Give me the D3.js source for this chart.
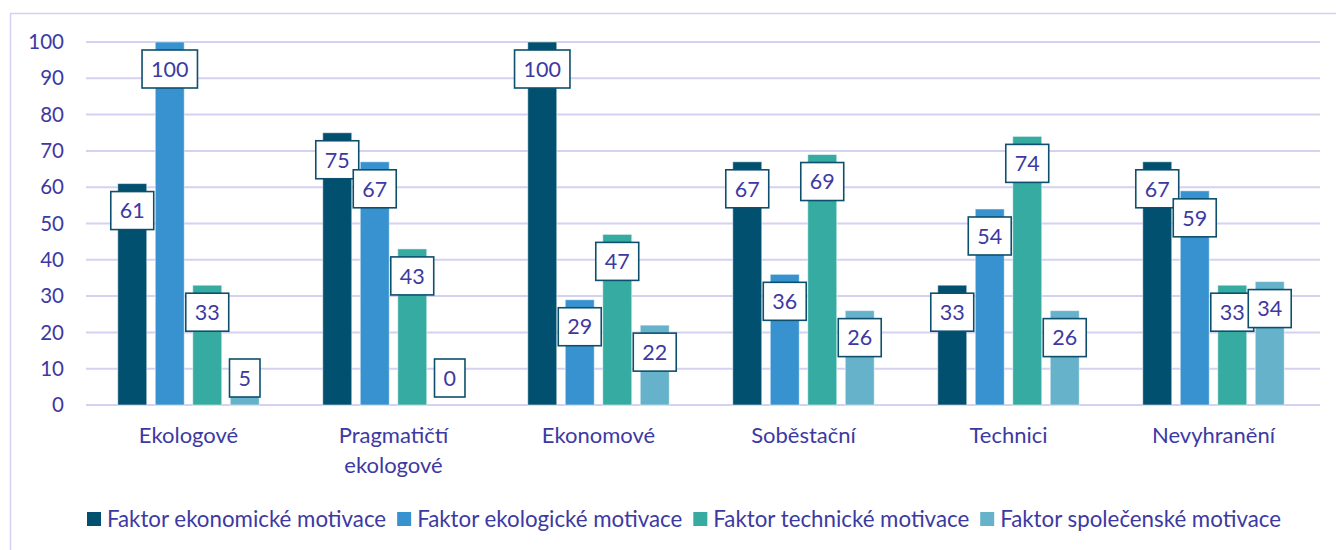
<!DOCTYPE html>
<html>
<head>
<meta charset="utf-8">
<script src="https://cdn.jsdelivr.net/npm/d3@7"></script>
<style>
  body { margin: 0; background: #fff; }
  svg { display: block; font-family: Lato, "Open Sans", sans-serif; }
</style>
</head>
<body>
<svg id="chart" width="1336" height="550"></svg>
<script>
// category names (second line where the label wraps)
const categories = ['Ekologové', 'Pragmatičtí ekologové', 'Ekonomové', 'Soběstační', 'Technici', 'Nevyhranění'];
const categoryLines = [['Ekologové'], ['Pragmatičtí', 'ekologové'], ['Ekonomové'], ['Soběstační'], ['Technici'], ['Nevyhranění']];

const seriesNames = [
  'Faktor ekonomické motivace',
  'Faktor ekologické motivace',
  'Faktor technické motivace',
  'Faktor společenské motivace',
];
const seriesColors = ['#02506f', '#3892cf', '#36aba1', '#66b2ca'];

const economic = [61, 75, 100, 67, 33, 67];
const ecological = [100, 67, 29, 36, 54, 59];
const technical = [33, 43, 47, 69, 74, 33];
const social = [5, 0, 22, 26, 26, 34];
const seriesValues = [economic, ecological, technical, social];

const yTicks = [0, 10, 20, 30, 40, 50, 60, 70, 80, 90, 100];

const textColor = '#3d39a3';
const gridColor = '#d6d1f1';

const svg = d3.select('#chart');

// outer frame
svg.append('rect')
  .attr('x', 10.5).attr('y', 13.5)
  .attr('width', 1340).attr('height', 560)
  .attr('fill', 'none')
  .attr('stroke', gridColor)
  .attr('stroke-width', 1.5);

const x0 = d3.scaleBand().domain(categories).range([86, 1316]);
const x1 = d3.scaleBand().domain(seriesNames)
  .range([0, x0.bandwidth()])
  .paddingInner(0.227)
  .paddingOuter(0.847);
const y = d3.scaleLinear().domain([0, 100]).range([405, 42]);

// gridlines
svg.append('g')
  .selectAll('line')
  .data(yTicks)
  .join('line')
  .attr('x1', 86).attr('x2', 1320)
  .attr('y1', d => y(d)).attr('y2', d => y(d))
  .attr('stroke', gridColor)
  .attr('stroke-width', 2);

// y tick labels
svg.append('g')
  .selectAll('text')
  .data(yTicks)
  .join('text')
  .attr('x', 64)
  .attr('y', d => y(d))
  .attr('dy', '0.35em')
  .attr('text-anchor', 'end')
  .attr('font-size', 20.5)
  .attr('fill', textColor)
  .text(d => d);

// flatten data for bars
const bars = [];
categories.forEach((c, i) => {
  seriesNames.forEach((s, j) => {
    bars.push({cat: c, series: s, color: seriesColors[j], value: seriesValues[j][i]});
  });
});

svg.append('g')
  .selectAll('rect')
  .data(bars)
  .join('rect')
  .attr('x', d => x0(d.cat) + x1(d.series))
  .attr('y', d => y(d.value))
  .attr('width', x1.bandwidth())
  .attr('height', d => y(0) - y(d.value))
  .attr('fill', d => d.color)
  .attr('stroke', '#ffffff')
  .attr('stroke-opacity', 0.5)
  .attr('stroke-width', 1);

// data labels in boxed callouts
const labels = svg.append('g')
  .selectAll('g')
  .data(bars)
  .join('g')
  .attr('transform', d => {
    const cx = x0(d.cat) + x1(d.series) + x1.bandwidth() / 2;
    const cy = Math.min(y(d.value) + 27, y(0) - 27);
    return `translate(${cx},${cy})`;
  });

labels.append('text')
  .attr('text-anchor', 'middle')
  .attr('dy', '0.36em')
  .attr('font-size', 21.5)
  .attr('fill', textColor)
  .text(d => d.value);

labels.each(function () {
  const g = d3.select(this);
  const w = g.select('text').node().getComputedTextLength() + 18;
  g.insert('rect', 'text')
    .attr('x', -w / 2).attr('y', -19)
    .attr('width', w).attr('height', 38)
    .attr('fill', '#fff')
    .attr('stroke', '#0d4f6c')
    .attr('stroke-width', 1.6);
});

// category labels
const catG = svg.append('g')
  .selectAll('text')
  .data(categories)
  .join('text')
  .attr('text-anchor', 'middle')
  .attr('font-size', 22)
  .attr('fill', textColor)
  .attr('x', d => x0(d) + x0.bandwidth() / 2)
  .attr('y', 443);

catG.selectAll('tspan')
  .data((d, i) => categoryLines[i])
  .join('tspan')
  .attr('x', function () { return d3.select(this.parentNode).attr('x'); })
  .attr('dy', (d, i) => i === 0 ? 0 : 30)
  .text(d => d);

// legend
const legend = svg.append('g').attr('transform', 'translate(0,519)');
let lx = 87;
seriesNames.forEach((s, j) => {
  legend.append('rect')
    .attr('x', lx).attr('y', -7)
    .attr('width', 14).attr('height', 14)
    .attr('fill', seriesColors[j]);
  const t = legend.append('text')
    .attr('x', lx + 20)
    .attr('dy', '0.35em')
    .attr('font-size', 22.3)
    .attr('fill', textColor)
    .text(s);
  lx += 20 + t.node().getComputedTextLength() + 11;
});
</script>
</body>
</html>
